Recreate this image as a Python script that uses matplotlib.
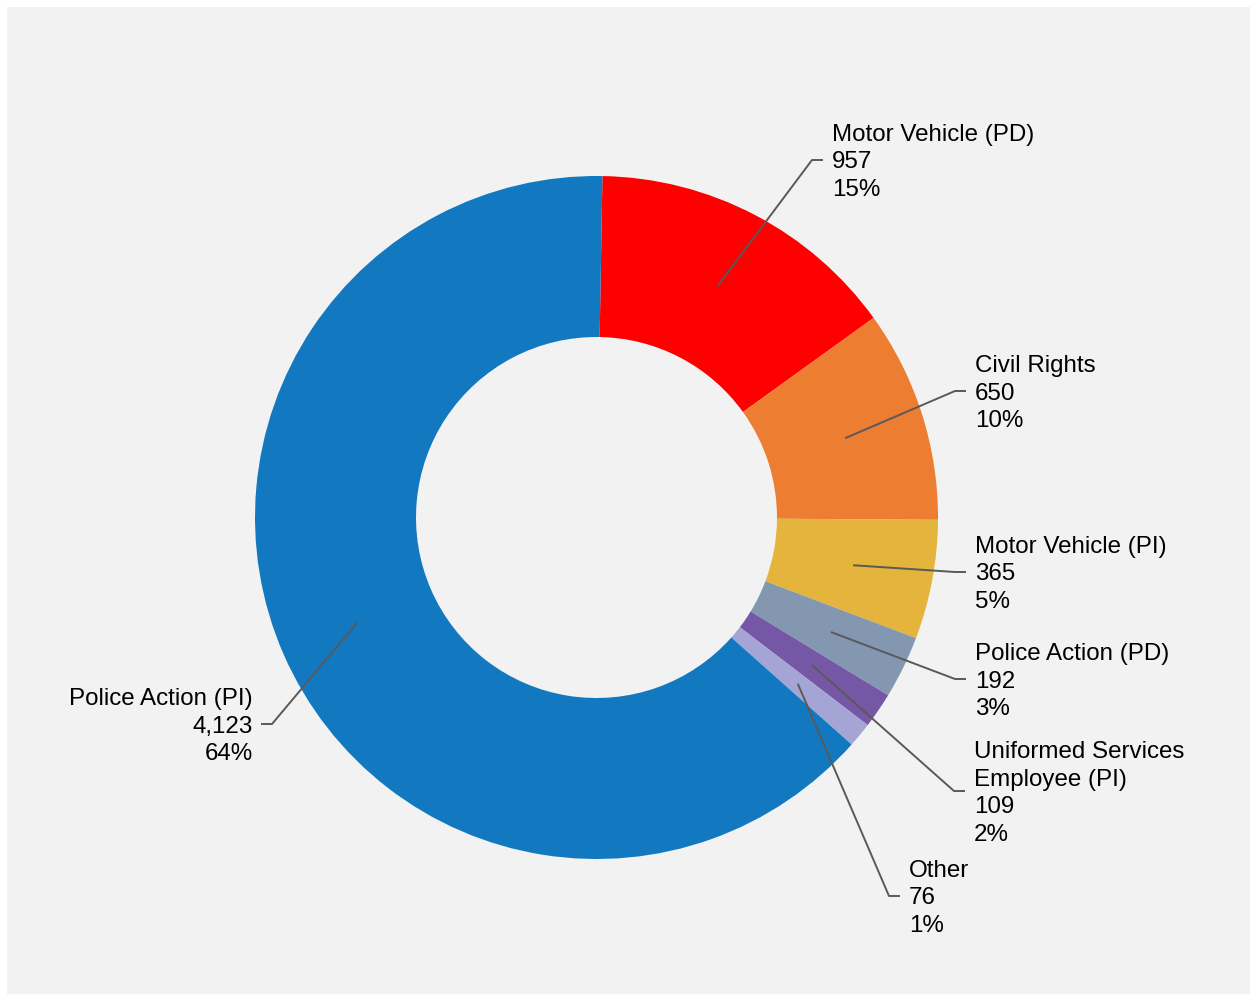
import matplotlib
matplotlib.use("Agg")
import matplotlib.pyplot as plt
import numpy as np
from matplotlib.patches import Rectangle

categories = ["Motor Vehicle (PD)", "Civil Rights", "Motor Vehicle (PI)",
              "Police Action (PD)", "Uniformed Services\nEmployee (PI)",
              "Other", "Police Action (PI)"]
values = [957, 650, 365, 192, 109, 76, 4123]
colors = ["#FF0000", "#ED7D31", "#E4B43C", "#8497B0", "#7657A6", "#A4A5D4", "#1279C0"]

# label layout (pixel coords, image y downward): elbow x, elbow y, side
label_layout = [
    (812, 160, "right"),
    (955, 391, "right"),
    (955, 572, "right"),
    (955, 679, "right"),
    (954, 791, "right"),
    (889, 896, "right"),
    (272, 724, "left"),
]

W, H = 1252, 994
fig = plt.figure(figsize=(W / 100, H / 100), dpi=100)
fig.patch.set_facecolor("white")
ax = fig.add_axes([0, 0, 1, 1])
ax.set_xlim(0, W)
ax.set_ylim(0, H)
ax.axis("off")
ax.add_patch(Rectangle((7, 0), 1243, H - 7, facecolor="#F2F2F2", edgecolor="none", zorder=0))

cx, cy = 596.5, H - 517.5
R = 341.5
r_in = 180.5
start = 89

wedges, _ = ax.pie(values, colors=colors, startangle=start, counterclock=False,
                   radius=R, center=(cx, cy),
                   wedgeprops=dict(width=R - r_in, linewidth=0, antialiased=True))
ax.set_xlim(0, W)
ax.set_ylim(0, H)
ax.set_aspect("equal")

# percentages rounded with largest-remainder so they sum to 100
total = sum(values)
raw = np.array(values) / total * 100
floors = np.floor(raw).astype(int)
rem = 100 - floors.sum()
order = np.argsort(-(raw - floors))
pcts = floors.copy()
pcts[order[:rem]] += 1

r_mid = (R + r_in) / 2
for w, cat, val, pct, (ex, ey, side) in zip(wedges, categories, values, pcts, label_layout):
    ang = np.deg2rad((w.theta1 + w.theta2) / 2)
    sx, sy = cx + r_mid * np.cos(ang), cy + r_mid * np.sin(ang)
    ey_m = H - ey
    if side == "right":
        endx = ex + 11
        tx = ex + 20
        ha = "left"
    else:
        endx = ex - 11
        tx = ex - 19
        ha = "right"
    ax.plot([sx, ex, endx], [sy, ey_m, ey_m], color="#595959", lw=1.4,
            solid_capstyle="butt", zorder=3)
    txt = f"{cat}\n{val:,}\n{pct}%"
    ax.text(tx, ey_m - 2.5, txt, ha=ha, va="center", multialignment=ha,
            fontsize=17.4, family="Liberation Sans", color="#000000",
            linespacing=1.335, zorder=4)

fig.savefig("out.png", dpi=100, facecolor=fig.get_facecolor())
